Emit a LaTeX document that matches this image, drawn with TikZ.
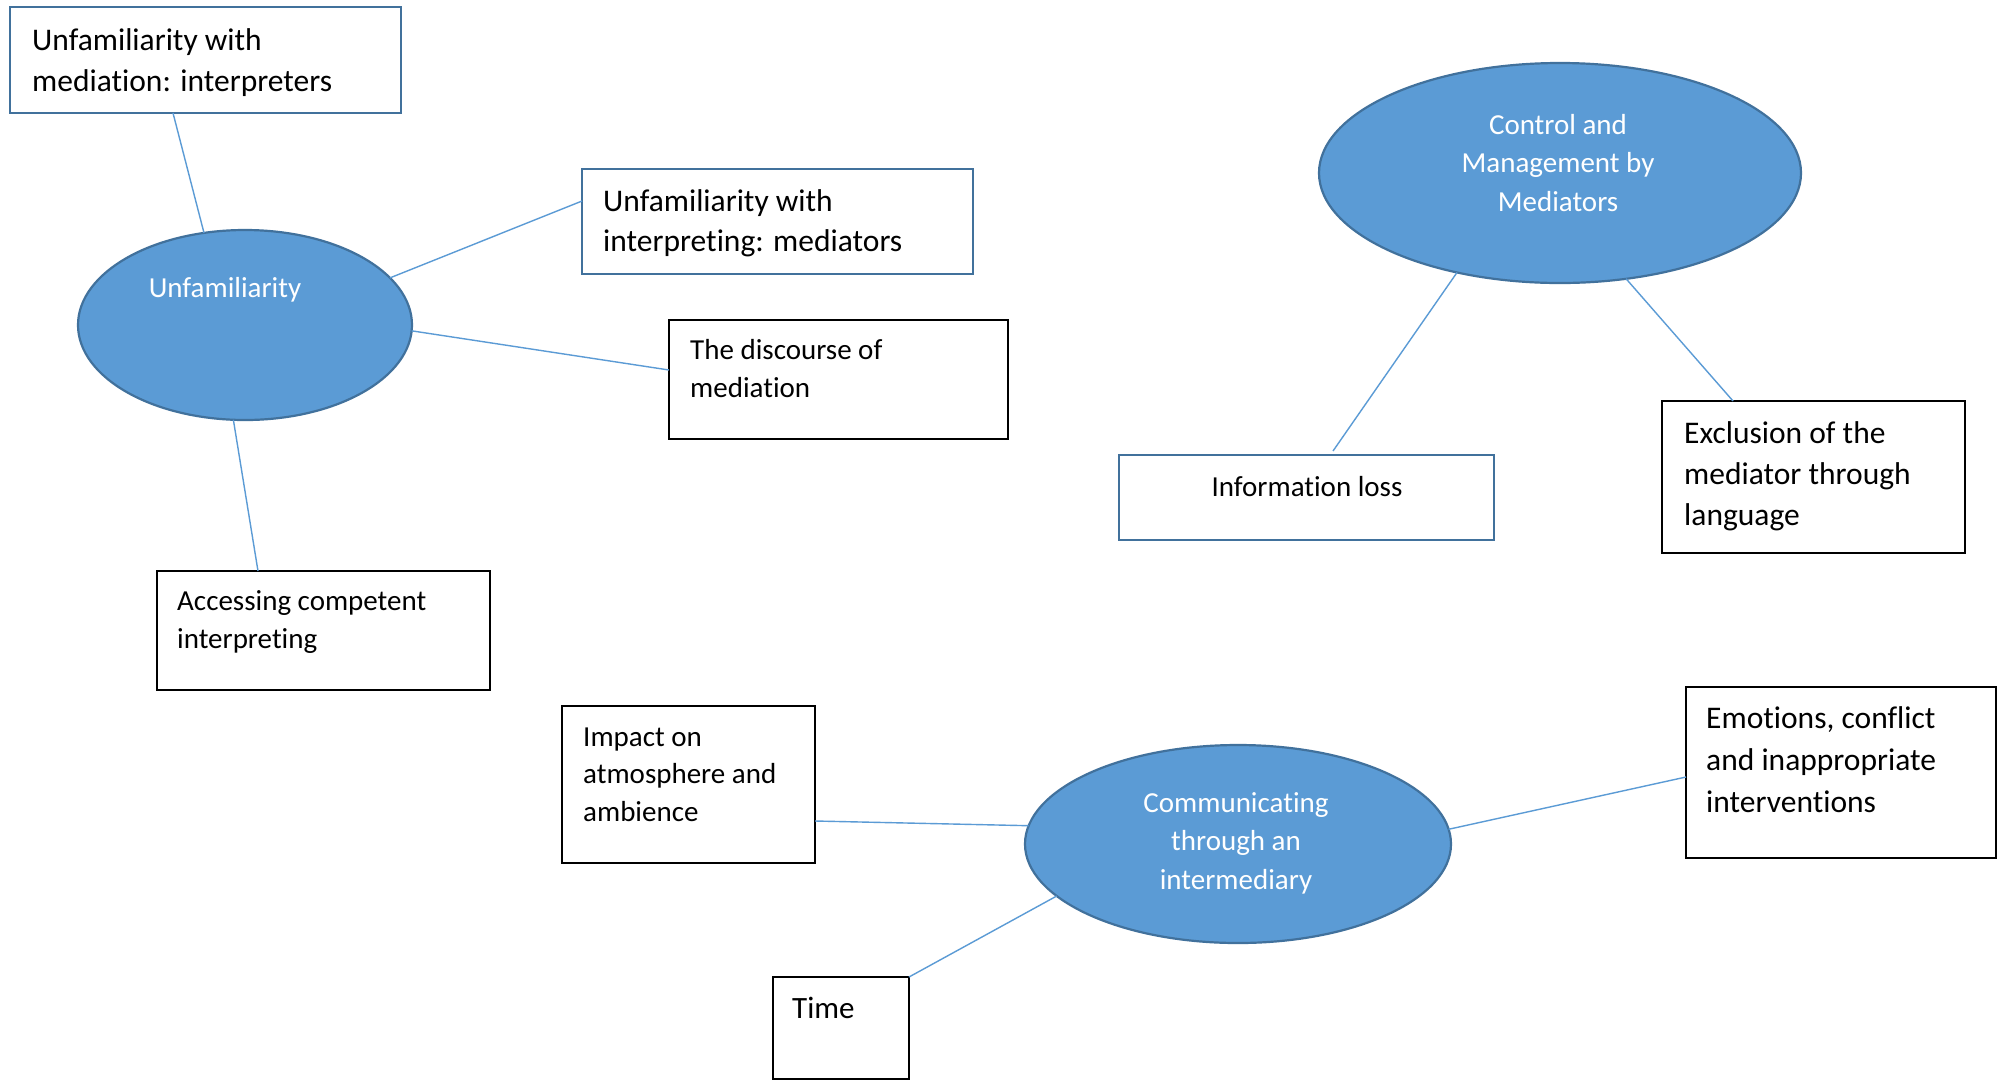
\documentclass[tikz,border=0pt]{standalone}
\usepackage{fontspec}
\setmainfont{Carlito}[Ligatures={NoCommon}]
\usetikzlibrary{shapes.geometric}
\definecolor{ellfill}{HTML}{5B9BD5}
\definecolor{elldraw}{HTML}{41719C}
\definecolor{connc}{HTML}{5B9BD5}
\definecolor{bluebox}{HTML}{41719C}
\begin{document}
\begin{tikzpicture}[x=1pt,y=-1pt,
  box/.style={draw, rectangle, line width=2.2pt, inner sep=0, outer sep=0, anchor=north west},
  bbox/.style={box, draw=bluebox},
  kbox/.style={box, draw=black},
  oval/.style={ellipse, draw=elldraw, fill=ellfill, line width=2.2pt, inner sep=0, outer sep=0},
  link/.style={draw=connc, line width=1.4pt},
  lbl/.style={inner sep=0, align=left, anchor=north west, text=black},
  wlbl/.style={inner sep=0, align=center, text=white}]
\useasboundingbox (0,0) rectangle (2002,1080);
\fill[white] (0,0) rectangle (2002,1080);

% ---------- Unfamiliarity cluster ----------
\node[oval, minimum width=334, minimum height=190] (U) at (245,325) {};
\node[wlbl, anchor=base, font=\fontsize{29}{38}\selectfont] (tU) at (225,297) {Unfamiliarity};

\node[bbox, minimum width=391, minimum height=106] (A) at (10,7) {};
\node[lbl, font=\fontsize{31.5}{41}\selectfont] (tA) at (32,21.3) {\strut Unfamiliarity with\\mediation: interpreters};

\node[bbox, minimum width=391, minimum height=105] (B) at (582,169) {};
\node[lbl, font=\fontsize{31.5}{40}\selectfont] (tB) at (603,183) {\strut Unfamiliarity with\\interpreting: mediators};

\node[kbox, minimum width=339, minimum height=119] (C) at (669,320) {};
\node[lbl, font=\fontsize{29}{38}\selectfont] (tC) at (690,332.4) {\strut The discourse of\\mediation};

\node[kbox, minimum width=333, minimum height=119] (D) at (157,571) {};
\node[lbl, font=\fontsize{29}{38}\selectfont] (tD) at (177,583.4) {\strut Accessing competent\\interpreting};

\draw[link] ([xshift=163pt]A.south west) -- (U.114.8);
\draw[link] (U.18.4) -- ([yshift=20.5pt]B.west);
\draw[link] (U.-2.4) -- ([yshift=9.5pt]C.west);
\draw[link] (U.263.3) -- ([xshift=101pt]D.north west);

% ---------- Control cluster ----------
\node[oval, minimum width=482, minimum height=220] (CM) at (1560,173) {};
\node[wlbl, anchor=north, font=\fontsize{29}{38.5}\selectfont] (tCM) at (1558,107) {\strut Control and\\Management by\\Mediators};

\node[bbox, minimum width=375, minimum height=85] (Info) at (1119,455) {};
\node[lbl, anchor=base, font=\fontsize{29}{38}\selectfont] (tInfo) at (1307,496) {Information loss};

\node[kbox, minimum width=303, minimum height=152] (Ex) at (1662,401) {};
\node[lbl, font=\fontsize{31.5}{41}\selectfont] (tEx) at (1684,414.3) {\strut Exclusion of the\\mediator through\\language};

\draw[link] (CM.224.2) -- ([xshift=214pt,yshift=4pt]Info.north west);
\draw[link] (CM.-58.9) -- ([xshift=71pt]Ex.north west);

% ---------- Communicating cluster ----------
\node[oval, minimum width=426, minimum height=198] (CI) at (1238,844) {};
\node[wlbl, anchor=north, font=\fontsize{29}{38.5}\selectfont] (tCI) at (1236,785) {\strut Communicating\\through an\\intermediary};

\node[kbox, minimum width=253, minimum height=157] (Im) at (562,706) {};
\node[lbl, font=\fontsize{29}{37.5}\selectfont] (tIm) at (583,719.75) {\strut Impact on\\atmosphere and\\ambience};

\node[kbox, minimum width=310, minimum height=171] (Em) at (1686,687) {};
\node[lbl, font=\fontsize{31.5}{42}\selectfont] (tEm) at (1706,698.6) {\strut Emotions, conflict\\and inappropriate\\interventions};

\node[kbox, minimum width=136, minimum height=102] (Ti) at (773,977) {};
\node[lbl, anchor=base west, font=\fontsize{31}{40}\selectfont] (tTi) at (792,1018) {Time};

\draw[link] ([yshift=-36.5pt]Im.east) -- (CI.175.2);
\draw[link] (CI.4.9) -- ([yshift=-4.5pt]Em.west);
\draw[link] (CI.196.6) -- (Ti.north east);
\end{tikzpicture}
\end{document}
